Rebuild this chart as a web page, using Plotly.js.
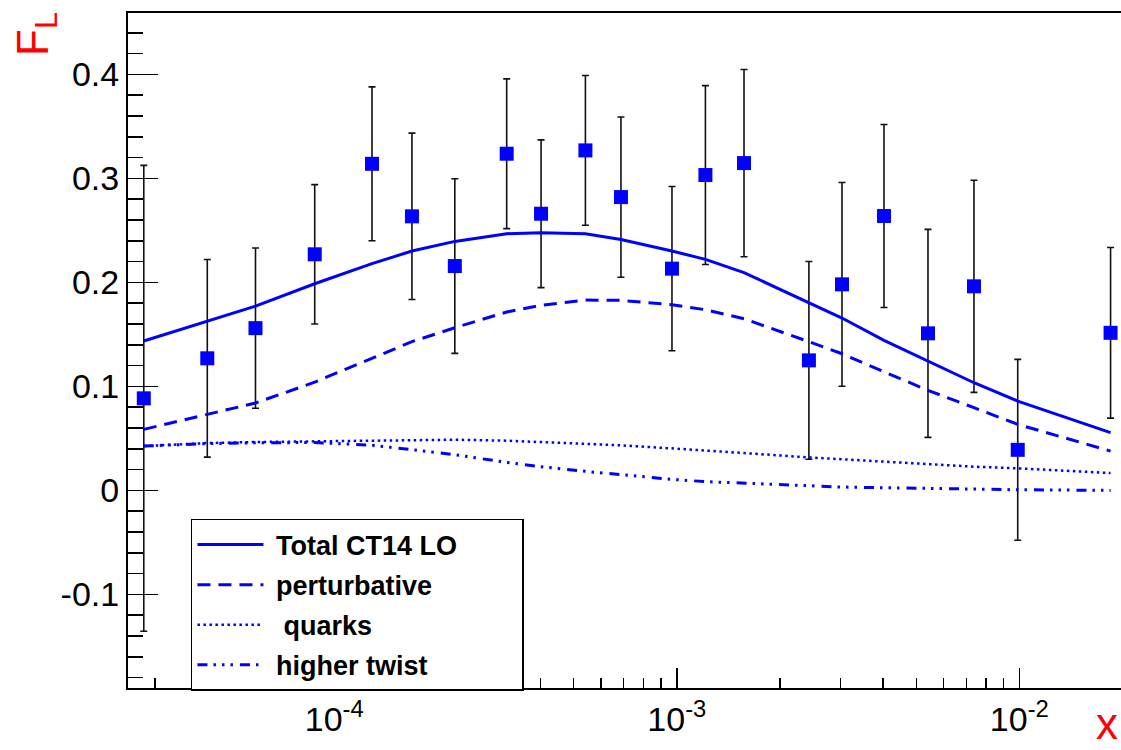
<!DOCTYPE html>
<html>
<head>
<meta charset="utf-8">
<script src="https://cdn.plot.ly/plotly-3.0.1.min.js"></script>
<style>html,body{margin:0;padding:0;background:#fff;}#chart{width:1121px;height:750px;}</style>
</head>
<body>
<div id="chart"></div>
<script>
// ---- data ----
const xVals = [2.78e-5, 4.26e-5, 5.89e-5, 8.77e-5, 1.289e-4, 1.686e-4, 2.249e-4, 3.187e-4, 4.015e-4, 5.41e-4, 6.87e-4, 9.68e-4, 1.212e-3, 1.571e-3, 2.43e-3, 3.035e-3, 4.025e-3, 5.41e-3, 7.37e-3, 9.89e-3, 1.846e-2];
const dataFL = [0.0885, 0.127, 0.156, 0.227, 0.314, 0.2635, 0.2157, 0.3237, 0.266, 0.3269, 0.282, 0.2132, 0.3032, 0.3147, 0.125, 0.1981, 0.2638, 0.151, 0.1962, 0.039, 0.1515];
const dataErr = [0.224, 0.095, 0.077, 0.067, 0.074, 0.080, 0.084, 0.072, 0.071, 0.072, 0.077, 0.079, 0.086, 0.090, 0.095, 0.098, 0.088, 0.100, 0.102, 0.087, 0.082];
const totalCT14 = [0.1436, 0.1628, 0.1772, 0.1987, 0.218, 0.2301, 0.2394, 0.2468, 0.2478, 0.2468, 0.2413, 0.2301, 0.2221, 0.2093, 0.1801, 0.1657, 0.1442, 0.124, 0.1035, 0.0859, 0.0555];
const perturbative = [0.0587, 0.0728, 0.084, 0.1041, 0.127, 0.143, 0.1564, 0.1715, 0.1779, 0.183, 0.1827, 0.1785, 0.1737, 0.1650, 0.143, 0.1314, 0.114, 0.0962, 0.0795, 0.0635, 0.0378];
const quarks = [0.0426, 0.0455, 0.0465, 0.0471, 0.0478, 0.0483, 0.0487, 0.0478, 0.0466, 0.0449, 0.0433, 0.0404, 0.0385, 0.0359, 0.0317, 0.0298, 0.0275, 0.025, 0.0228, 0.0212, 0.0167];
const higherTwist = [0.0426, 0.045, 0.0458, 0.046, 0.0435, 0.039, 0.0343, 0.0269, 0.0228, 0.0183, 0.0151, 0.0106, 0.0084, 0.0067, 0.0045, 0.0032, 0.0025, 0.0019, 0.0013, 0.0006, 0.0];
const seriesNames = ['Total CT14 LO', 'perturbative', ' quarks', 'higher twist'];
const xTickVals = [1e-4, 1e-3, 1e-2];
const xTickText = ['10<sup>-4</sup>', '10<sup>-3</sup>', '10<sup>-2</sup>'];
const yTickVals = [-0.1, 0, 0.1, 0.2, 0.3, 0.4];
const yTickText = ['-0.1', '0', '0.1', '0.2', '0.3', '0.4'];

// minor log ticks (2..9 per decade)
const xMinor = [];
for (let e = -5; e <= -2; e++) for (let m = 2; m <= 9; m++) xMinor.push(m * Math.pow(10, e));

const BLUE = '#0000ff';
const FONT = 'Liberation Sans, Arial, Helvetica, sans-serif';
const LEAD = '\u00a0';              // gap between legend sample and label
const PAD = '\u00a0'.repeat(8);     // empty room at the right of the legend box

function curve(y, name, dash, width, grp) {
  return {x: xVals, y: y, type: 'scatter', mode: 'lines', name: name, legendgroup: grp,
          line: {color: BLUE, width: width, dash: dash}, hoverinfo: 'skip'};
}

const traces = [
  {x: xVals, y: dataFL, type: 'scatter', mode: 'markers', showlegend: false,
   marker: {symbol: 'square', size: 14, color: BLUE, line: {width: 0}},
   error_y: {type: 'data', array: dataErr, visible: true, color: '#111', thickness: 1.6, width: 3.5}},
  curve(totalCT14, LEAD + seriesNames[0] + PAD, 'solid', 3, 'g1'),
  curve(perturbative, LEAD + seriesNames[1], '13px,8px', 3, 'g2'),
  curve(quarks, LEAD + seriesNames[2], '2.5px,3.5px', 2.5, 'g3'),
  curve(higherTwist, LEAD + seriesNames[3], '10px,6px,2.5px,6px,2.5px,6px,2.5px,7px', 3, 'g4')
];

const layout = {
  width: 1121, height: 750,
  margin: {l: 128, r: 0, t: 13, b: 62},
  paper_bgcolor: '#fff', plot_bgcolor: '#fff',
  font: {family: FONT, color: '#000'},
  showlegend: true,
  legend: {
    x: 0.0634, y: 0.2504, xanchor: 'left', yanchor: 'top',
    bgcolor: '#fff', bordercolor: '#000', borderwidth: 1.5,
    font: {family: FONT, size: 27, weight: 700, color: '#000'},
    traceorder: 'grouped', tracegroupgap: 2, itemwidth: 66
  },
  xaxis: {
    type: 'log',
    range: [Math.log10(2.5e-5), Math.log10(0.0198)],
    showgrid: false, zeroline: false,
    showline: true, linecolor: '#000', linewidth: 2, mirror: true,
    tickmode: 'array', tickvals: xTickVals, ticktext: xTickText,
    ticks: 'inside', ticklen: 20, tickwidth: 1.5, tickcolor: '#000',
    tickfont: {family: FONT, size: 34, color: '#000'},
    minor: {tickmode: 'array', tickvals: xMinor, ticks: 'inside', ticklen: 10, tickwidth: 1.5, tickcolor: '#000', showgrid: false}
  },
  yaxis: {
    range: [-0.19, 0.459],
    showgrid: false, zeroline: false,
    showline: true, linecolor: '#000', linewidth: 2,
    tickmode: 'array', tickvals: yTickVals, ticktext: yTickText,
    ticks: 'inside', ticklen: 30, tickwidth: 1.5, tickcolor: '#000',
    tickfont: {family: FONT, size: 34, color: '#000'},
    minor: {tickmode: 'linear', tick0: 0, dtick: 0.02, ticks: 'inside', ticklen: 15, tickwidth: 1.5, tickcolor: '#000', showgrid: false}
  },
  annotations: [
    {text: 'F<sub>L</sub>', xref: 'paper', yref: 'paper', x: -0.0926, y: 0.969,
     xanchor: 'center', yanchor: 'middle', textangle: -90, showarrow: false,
     font: {family: FONT, size: 44, color: '#ff0000'}},
    {text: 'x', xref: 'paper', yref: 'paper', x: 0.999, y: -0.0919,
     xanchor: 'right', yanchor: 'bottom', showarrow: false,
     font: {family: FONT, size: 44, color: '#ff0000'}}
  ]
};

Plotly.newPlot('chart', traces, layout, {displayModeBar: false, staticPlot: true});
</script>
</body>
</html>
